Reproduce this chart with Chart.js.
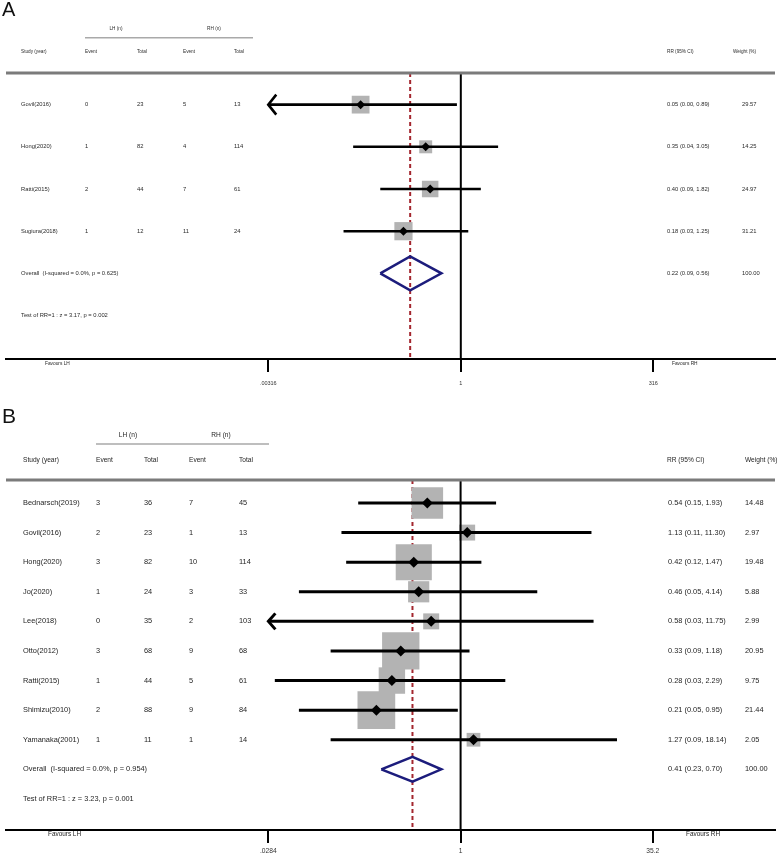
<!DOCTYPE html>
<html>
<head>
<meta charset="utf-8">
<script src="https://cdn.jsdelivr.net/npm/chart.js@4.4.0/dist/chart.umd.min.js"></script>
<style>
  html, body { margin: 0; padding: 0; background: #fff; }
  #wrap { position: relative; width: 778px; height: 861px; }
  canvas { position: absolute; left: 0; }
</style>
</head>
<body>
<div id="wrap">
  <canvas id="chartA" width="778" height="400" style="top:0"></canvas>
  <canvas id="chartB" width="778" height="461" style="top:400px"></canvas>
</div>
<script>
// Panel A data
const studiesA = ['Govil(2016)', 'Hong(2020)', 'Ratti(2015)', 'Sugiura(2018)'];
const lhEventA = [0, 1, 2, 1];
const lhTotalA = [23, 82, 44, 12];
const rhEventA = [5, 4, 7, 11];
const rhTotalA = [13, 114, 61, 24];
const rrA = [0.05, 0.35, 0.40, 0.18];
const loA = [0.00, 0.04, 0.09, 0.03];
const hiA = [0.89, 3.05, 1.82, 1.25];
const weightA = [29.57, 14.25, 24.97, 31.21];
const overallA = [0.22, 0.09, 0.56]; // RR, lower, upper
const statsA = ['Overall  (I-squared = 0.0%, p = 0.625)', 'Test of RR=1 : z = 3.17, p = 0.002'];
const ticksA = [0.00316, 1, 316];
const tickLabelsA = ['.00316', '1', '316'];

// Panel B data
const studiesB = ['Bednarsch(2019)', 'Govil(2016)', 'Hong(2020)', 'Jo(2020)', 'Lee(2018)',
  'Otto(2012)', 'Ratti(2015)', 'Shimizu(2010)', 'Yamanaka(2001)'];
const lhEventB = [3, 2, 3, 1, 0, 3, 1, 2, 1];
const lhTotalB = [36, 23, 82, 24, 35, 68, 44, 88, 11];
const rhEventB = [7, 1, 10, 3, 2, 9, 5, 9, 1];
const rhTotalB = [45, 13, 114, 33, 103, 68, 61, 84, 14];
const rrB = [0.54, 1.13, 0.42, 0.46, 0.58, 0.33, 0.28, 0.21, 1.27];
const loB = [0.15, 0.11, 0.12, 0.05, 0.028, 0.09, 0.032, 0.05, 0.09];
const hiB = [1.93, 11.30, 1.47, 4.14, 11.75, 1.18, 2.29, 0.95, 18.14];
const weightB = [14.48, 2.97, 19.48, 5.88, 2.99, 20.95, 9.75, 21.44, 2.05];
const overallB = [0.41, 0.23, 0.70];
const statsB = ['Overall  (I-squared = 0.0%, p = 0.954)', 'Test of RR=1 : z = 3.23, p = 0.001'];
const ticksB = [0.0284, 1, 35.2];
const tickLabelsB = ['.0284', '1', '35.2'];

const FONT = '"Liberation Sans", Arial, sans-serif';

function fmtCI(rr, lo, hi) {
  return rr.toFixed(2) + ' (' + lo.toFixed(2) + ', ' + hi.toFixed(2) + ')';
}

function buildPanel(canvasId, d, s) {
  const n = d.studies.length;
  const rows = d.studies.map((_, i) => i + 1);
  const overallRow = n + 1;
  const testRow = n + 2;
  const clip = d.ticks[0];
  const [oEst, oLo, oHi] = d.overall;

  const datasets = [];
  // pooled estimate (dashed)
  datasets.push({
    data: [{x: oEst, y: s.yMin}, {x: oEst, y: s.yMax}],
    showLine: true, borderColor: '#a3262e', borderWidth: 2, borderDash: [4, 3],
    pointRadius: 0, order: 10
  });
  // weight boxes
  datasets.push({
    data: rows.map((r, i) => ({x: d.rr[i], y: r})),
    pointStyle: 'rect', backgroundColor: '#b3b3b3', borderWidth: 0,
    pointRadius: ctx => (s.boxA + s.boxB * Math.sqrt(d.weight[ctx.dataIndex])) / Math.SQRT2,
    order: 9
  });
  // no-effect line
  datasets.push({
    data: [{x: 1, y: s.yMin}, {x: 1, y: s.yMax}],
    showLine: true, borderColor: '#000', borderWidth: 2, pointRadius: 0, order: 8
  });
  // confidence intervals
  rows.forEach((r, i) => {
    datasets.push({
      data: [{x: Math.max(d.lo[i], clip), y: r}, {x: d.hi[i], y: r}],
      showLine: true, borderColor: '#000', borderWidth: s.ciW, pointRadius: 0, order: 7
    });
  });
  // point estimates
  datasets.push({
    data: rows.map((r, i) => ({x: d.rr[i], y: r})),
    pointStyle: 'rectRot', backgroundColor: '#000', borderWidth: 0,
    pointRadius: s.markerR, order: 6
  });
  // overall diamond
  datasets.push({
    data: [
      {x: oLo, y: overallRow}, {x: oEst, y: overallRow - s.diamondH},
      {x: oHi, y: overallRow}, {x: oEst, y: overallRow + s.diamondH},
      {x: oLo, y: overallRow}
    ],
    showLine: true, borderColor: '#1c1c7c', borderWidth: 2.5, pointRadius: 0,
    borderJoinStyle: 'miter', order: 5
  });

  const arrowPlugin = {
    id: 'arrows' + canvasId,
    afterDatasetsDraw(chart) {
      const c = chart.ctx;
      const xS = chart.scales.x, yS = chart.scales.y;
      c.save();
      c.strokeStyle = '#000';
      c.lineWidth = s.ciW;
      c.lineJoin = 'miter';
      rows.forEach((r, i) => {
        if (d.lo[i] >= clip) return;
        const x = xS.getPixelForValue(clip), y = yS.getPixelForValue(r);
        c.beginPath();
        c.moveTo(x + s.arrowDx, y - s.arrowDy);
        c.lineTo(x, y);
        c.lineTo(x + s.arrowDx, y + s.arrowDy);
        c.stroke();
      });
      c.restore();
    }
  };

  const textPlugin = {
    id: 'text' + canvasId,
    afterDraw(chart) {
      const c = chart.ctx;
      const yS = chart.scales.y;
      const hline = (x1, y, x2) => { c.beginPath(); c.moveTo(x1, y); c.lineTo(x2, y); c.stroke(); };
      c.save();
      // panel letter
      c.fillStyle = '#111';
      c.font = s.letterSize + 'px ' + FONT;
      c.textBaseline = 'alphabetic';
      c.textAlign = 'left';
      c.fillText(s.letter, 2, s.letterBase);
      // rules
      c.strokeStyle = '#7b7b7b';
      c.lineWidth = 3;
      hline(6, s.thickY, 775);
      c.strokeStyle = '#a9a9a9';
      c.lineWidth = 1.5;
      hline(s.groupLine[0], s.groupLineY, s.groupLine[1]);
      // headers
      c.textBaseline = 'middle';
      c.fillStyle = s.textColor;
      c.font = s.headFont + 'px ' + FONT;
      c.textAlign = 'center';
      c.fillText('LH (n)', s.groupCenters[0], s.groupY);
      c.fillText('RH (n)', s.groupCenters[1], s.groupY);
      c.textAlign = 'left';
      ['Study (year)', 'Event', 'Total', 'Event', 'Total'].forEach((h, k) => c.fillText(h, s.cols[k], s.headY));
      c.fillText('RR (95% CI)', s.rrHeadX, s.headY);
      c.fillText('Weight (%)', s.wHeadX, s.headY);
      // study rows
      c.font = s.bodyFont + 'px ' + FONT;
      d.studies.forEach((name, i) => {
        const y = yS.getPixelForValue(i + 1);
        [name, d.lhEvent[i], d.lhTotal[i], d.rhEvent[i], d.rhTotal[i]]
          .forEach((v, k) => c.fillText(String(v), s.cols[k], y));
        c.fillText(fmtCI(d.rr[i], d.lo[i], d.hi[i]), s.rrX, y);
        c.fillText(d.weight[i].toFixed(2), s.wX, y);
      });
      const yO = yS.getPixelForValue(overallRow);
      c.fillText(d.stats[0], s.cols[0], yO);
      c.fillText(fmtCI(oEst, oLo, oHi), s.rrX, yO);
      c.fillText('100.00', s.wX, yO);
      c.fillText(d.stats[1], s.cols[0], yS.getPixelForValue(testRow));
      // favours labels
      c.font = s.favFont + 'px ' + FONT;
      c.fillText('Favours LH', s.favLX, s.favY);
      c.fillText('Favours RH', s.favRX, s.favY);
      c.restore();
    }
  };

  return new Chart(document.getElementById(canvasId), {
    type: 'scatter',
    data: {datasets},
    plugins: [arrowPlugin, textPlugin],
    options: {
      responsive: false,
      animation: false,
      events: [],
      layout: {autoPadding: false, padding: {left: 6, right: 3, top: s.thickY, bottom: 0}},
      plugins: {legend: {display: false}, tooltip: {enabled: false}},
      scales: {
        x: {
          type: 'logarithmic',
          min: s.xMin,
          max: s.xMax,
          afterBuildTicks: sc => { sc.ticks = d.ticks.map(v => ({value: v})); },
          afterFit: sc => { sc.height = s.axisH; sc.paddingLeft = 0; sc.paddingRight = 0; },
          grid: {display: true, drawOnChartArea: false, drawTicks: true, tickLength: s.tickLen, color: '#000', lineWidth: 2},
          border: {display: true, color: '#000', width: 2},
          ticks: {
            autoSkip: false, maxRotation: 0, padding: s.tickPad, color: '#333',
            font: {family: FONT, size: s.tickFont},
            callback: (v, i) => d.tickLabels[i]
          }
        },
        y: {type: 'linear', display: false, reverse: true, min: s.yMin, max: s.yMax}
      }
    }
  });
}

buildPanel('chartA', {
  studies: studiesA, lhEvent: lhEventA, lhTotal: lhTotalA, rhEvent: rhEventA, rhTotal: rhTotalA,
  rr: rrA, lo: loA, hi: hiA, weight: weightA, overall: overallA, stats: statsA,
  ticks: ticksA, tickLabels: tickLabelsA
}, {
  letter: 'A', letterSize: 20, letterBase: 16,
  thickY: 73, axisH: 41, xMin: Math.pow(10, -5.906), xMax: Math.pow(10, 4.08),
  yMin: 0.25, yMax: 7.03,
  textColor: '#2a2a2a', headFont: 4.7, bodyFont: 5.8, favFont: 4.8, tickFont: 5.5,
  cols: [21, 85, 137, 183, 234], rrHeadX: 667, wHeadX: 733, rrX: 667, wX: 742,
  groupY: 29, groupLineY: 37.7, groupCenters: [116, 214], groupLine: [85, 253],
  headY: 52, favY: 364, favLX: 45, favRX: 672,
  boxA: 2, boxB: 2.9, markerR: 4.5, ciW: 2.6, arrowDx: 8, arrowDy: 10, diamondH: 0.4,
  tickLen: 13, tickPad: 8
});

buildPanel('chartB', {
  studies: studiesB, lhEvent: lhEventB, lhTotal: lhTotalB, rhEvent: rhEventB, rhTotal: rhTotalB,
  rr: rrB, lo: loB, hi: hiB, weight: weightB, overall: overallB, stats: statsB,
  ticks: ticksB, tickLabels: tickLabelsB
}, {
  letter: 'B', letterSize: 21, letterBase: 23,
  thickY: 80, axisH: 31, xMin: Math.pow(10, -3.658), xMax: Math.pow(10, 2.53),
  yMin: 0.223, yMax: 12.05,
  textColor: '#1e1e1e', headFont: 6.6, bodyFont: 7.4, favFont: 6.4, tickFont: 6.7,
  cols: [23, 96, 144, 189, 239], rrHeadX: 667, wHeadX: 745, rrX: 668, wX: 745,
  groupY: 35, groupLineY: 44, groupCenters: [128, 221], groupLine: [96, 269],
  headY: 60, favY: 434, favLX: 48, favRX: 686,
  boxA: 3, boxB: 7.5, markerR: 5.5, ciW: 3, arrowDx: 7, arrowDy: 8, diamondH: 0.42,
  tickLen: 13, tickPad: 4
});
</script>
</body>
</html>
